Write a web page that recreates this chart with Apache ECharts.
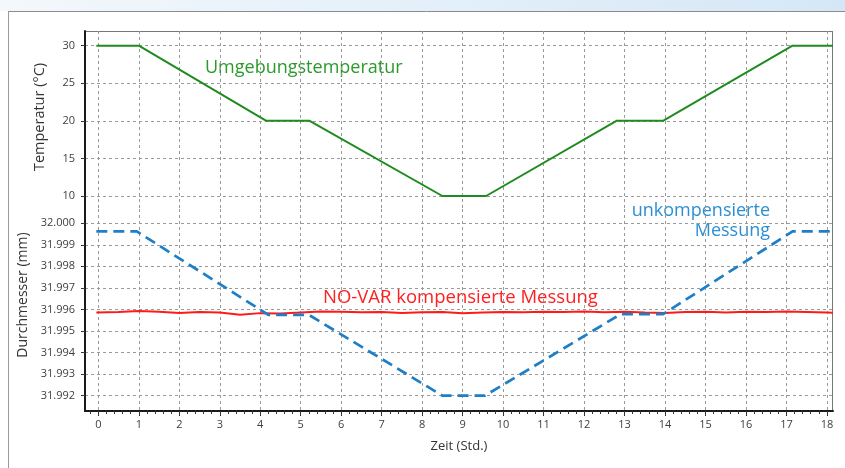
<!DOCTYPE html>
<html>
<head>
<meta charset="utf-8">
<script src="https://cdn.jsdelivr.net/npm/echarts@6/dist/echarts.min.js"></script>
<style>
  html, body { margin: 0; padding: 0; background: #fff; }
  #chart { width: 845px; height: 468px; }
</style>
</head>
<body>
<div id="chart"></div>
<script>
// Achsen-Ticks
const hourTicks = [0, 1, 2, 3, 4, 5, 6, 7, 8, 9, 10, 11, 12, 13, 14, 15, 16, 17, 18]
const tempTicks = [10, 15, 20, 25, 30]
const diaTicks = [31.992, 31.993, 31.994, 31.995, 31.996, 31.997, 31.998, 31.999, 32.0]

// Umgebungstemperatur (°C)
const tempHours = [-0.05, 1.0, 4.15, 5.22, 8.5, 9.58, 12.8, 13.95, 17.15, 18.15]
const tempValues = [30, 30, 20, 20, 10, 10, 20, 20, 30, 30]

// unkompensierte Messung (mm)
const rawHours = [-0.05, 0.95, 4.2, 5.2, 8.5, 9.55, 12.9, 13.95, 17.15, 18.15]
const rawValues = [31.99962, 31.99962, 31.99575, 31.99575, 31.992, 31.992, 31.99578, 31.99578, 31.99962, 31.99962]

// NO-VAR kompensierte Messung (mm)
const compHours = [-0.05, 0.5, 1, 1.5, 2, 2.5, 3, 3.5, 4, 4.5, 5, 5.5, 6, 6.5, 7, 7.5, 8, 8.5, 9, 9.5,
  10, 10.5, 11, 11.5, 12, 12.5, 13, 13.5, 14, 14.5, 15, 15.5, 16, 16.5, 17, 17.5, 18, 18.15]
const compValues = [31.99586, 31.99588, 31.99593, 31.99589, 31.99584, 31.99588, 31.99586, 31.99576, 31.99583, 31.99581,
  31.99586, 31.9959, 31.99589, 31.99587, 31.99588, 31.99584, 31.99587, 31.99588, 31.99582, 31.99586,
  31.99588, 31.99587, 31.99589, 31.99588, 31.9959, 31.99587, 31.99589, 31.99586, 31.99584, 31.99588,
  31.99589, 31.99586, 31.99589, 31.99588, 31.9959, 31.99588, 31.99586, 31.99585]

const zip = (xs, ys) => xs.map((x, i) => [x, ys[i]])

// kleine Striche alle 0.2 Std.
const minorTicks = []
for (let i = -1; i <= 91; i++) minorTicks.push(Math.round(i * 2) / 10)

const font = 'Open Sans'
const labelColor = '#404040'
const gridLine = { show: true, lineStyle: { color: '#9a9a9a', type: [3, 3], width: 1 } }
const blackAxis = { show: true, onZero: false, lineStyle: { color: '#1a1a1a', width: 2 } }
const xMin = -0.33
const xMax = 18.15

const chart = echarts.init(document.getElementById('chart'))

chart.setOption({
  animation: false,
  backgroundColor: '#fff',
  textStyle: { fontFamily: font },
  grid: [
    { left: 85, right: 12, top: 31, height: 178 },
    { left: 85, right: 12, top: 209, bottom: 57 },
  ],
  xAxis: [
    {
      gridIndex: 0, type: 'value', min: xMin, max: xMax,
      axisLine: { show: false, onZero: false },
      axisTick: { show: false, customValues: hourTicks },
      axisLabel: { show: false, customValues: hourTicks },
      splitLine: gridLine,
    },
    {
      gridIndex: 1, type: 'value', min: xMin, max: xMax, position: 'bottom',
      axisLine: blackAxis,
      axisTick: { show: true, length: 5, customValues: hourTicks, lineStyle: { color: '#333' } },
      axisLabel: { customValues: hourTicks, color: labelColor, fontSize: 11, margin: 8, fontFamily: font },
      splitLine: gridLine,
      name: 'Zeit (Std.)', nameLocation: 'middle', nameGap: 29,
      nameTextStyle: { color: '#333', fontSize: 13, fontFamily: font },
    },
    {
      gridIndex: 1, type: 'value', min: xMin, max: xMax, position: 'bottom',
      axisLine: { show: false, onZero: false },
      axisTick: { show: true, length: 3, customValues: minorTicks, lineStyle: { color: '#333' } },
      axisLabel: { show: false },
      splitLine: { show: false },
    },
  ],
  yAxis: [
    {
      gridIndex: 0, type: 'value', min: 8.27, max: 31.96,
      axisLine: blackAxis,
      axisTick: { show: true, length: 4, customValues: tempTicks, lineStyle: { color: '#333' } },
      axisLabel: { customValues: tempTicks, color: labelColor, fontSize: 11, margin: 10, fontFamily: font },
      splitLine: gridLine,
      name: 'Temperatur (°C)', nameLocation: 'middle', nameGap: 38,
      nameTextStyle: { color: '#333', fontSize: 14.5, fontFamily: font, padding: [0, 0, 0, 6] },
    },
    {
      gridIndex: 1, type: 'value', min: 31.99129, max: 32.00066,
      axisLine: blackAxis,
      axisTick: { show: true, length: 4, customValues: diaTicks, lineStyle: { color: '#333' } },
      axisLabel: {
        customValues: diaTicks, color: labelColor, fontSize: 11, margin: 10, fontFamily: font,
        formatter: v => v.toFixed(3),
      },
      splitLine: gridLine,
      name: 'Durchmesser (mm)', nameLocation: 'middle', nameGap: 54,
      nameTextStyle: { color: '#333', fontSize: 14, fontFamily: font, padding: [0, 0, 0, 30] },
    },
  ],
  series: [
    {
      name: 'Umgebungstemperatur', type: 'line', xAxisIndex: 0, yAxisIndex: 0,
      data: zip(tempHours, tempValues), showSymbol: false,
      lineStyle: { color: '#1f8b1f', width: 2 },
    },
    {
      name: 'NO-VAR kompensierte Messung', type: 'line', xAxisIndex: 1, yAxisIndex: 1,
      data: zip(compHours, compValues), showSymbol: false,
      lineStyle: { color: '#ff1a1a', width: 2 },
    },
    {
      name: 'unkompensierte Messung', type: 'line', xAxisIndex: 1, yAxisIndex: 1,
      data: zip(rawHours, rawValues), showSymbol: false,
      lineStyle: { color: '#1f7fc6', width: 2.7, type: [11, 6] },
    },
  ],
  graphic: [
    // Fensterkopf
    {
      type: 'rect', z: -10, silent: true,
      shape: { x: 0, y: 0, width: 845, height: 11 },
      style: {
        fill: new echarts.graphic.LinearGradient(0, 0, 1, 0, [
          { offset: 0, color: '#f3f8fc' },
          { offset: 1, color: '#d5e7f6' },
        ]),
      },
    },
    { type: 'line', silent: true, shape: { x1: 8, y1: 11.5, x2: 845, y2: 11.5 }, style: { stroke: '#8c8c8c', lineWidth: 1 } },
    { type: 'line', silent: true, shape: { x1: 8.5, y1: 11, x2: 8.5, y2: 468 }, style: { stroke: '#9a9a9a', lineWidth: 1 } },
    // Rahmen oben/rechts
    { type: 'line', silent: true, shape: { x1: 85, y1: 31.5, x2: 833, y2: 31.5 }, style: { stroke: '#777', lineWidth: 1 } },
    { type: 'line', silent: true, shape: { x1: 832.5, y1: 31, x2: 832.5, y2: 411 }, style: { stroke: '#777', lineWidth: 1 } },
    // Beschriftungen
    {
      type: 'text', left: 205, top: 59, silent: true,
      style: { text: 'Umgebungstemperatur', fill: '#2a9a2a', font: '18px "Open Sans"' },
    },
    {
      type: 'text', left: 323, top: 288, silent: true,
      style: { text: 'NO-VAR kompensierte Messung', fill: '#ff2020', font: '18.5px "Open Sans"' },
    },
    {
      type: 'text', right: 75, top: 202, silent: true,
      style: { text: 'unkompensierte', fill: '#2a8fd4', font: '18px "Open Sans"' },
    },
    {
      type: 'text', right: 75, top: 222, silent: true,
      style: { text: 'Messung', fill: '#2a8fd4', font: '18px "Open Sans"' },
    },
  ],
})
</script>
</body>
</html>
